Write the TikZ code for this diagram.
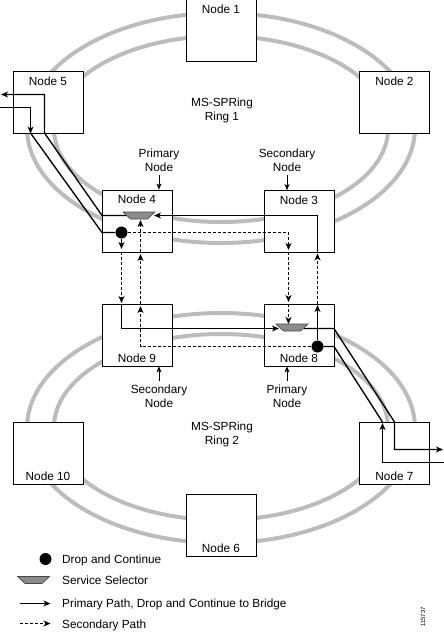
\documentclass[tikz,border=0pt]{standalone}
\usepackage{fontspec}
\setmainfont{Liberation Sans}
\usetikzlibrary{arrows.meta}
\definecolor{ringgray}{RGB}{188,188,188}
\definecolor{selfill}{RGB}{140,140,140}
\definecolor{seldraw}{RGB}{70,70,70}
\tikzset{
  pics/selector/.style={code={
    \filldraw[fill=selfill,draw=seldraw,line width=0.6pt]
      (-16,-3.5) -- (16,-3.5) -- (8.5,3.5) -- (-8.5,3.5) -- cycle;}}
}
\begin{document}
\begin{tikzpicture}[x=1pt,y=-1pt,
  txt/.style={font=\fontsize{11.8}{14}\selectfont, inner sep=0pt},
  nodebox/.style={draw=black, line width=0.8pt, fill=white, minimum width=70pt, minimum height=62pt, inner sep=0pt},
  toplbl/.style={label={[txt,anchor=center,yshift=-10pt]north:#1}},
  botlbl/.style={label={[txt,anchor=center,yshift=8pt]south:#1}},
  ring/.style={draw=ringgray, line width=4pt},
  path1/.style={line width=1.35pt},
  arr/.style={-{Stealth[length=7pt,width=6pt,inset=2pt]}},
  lblarr/.style={line width=0.8pt,-{Stealth[length=6pt,width=5pt,inset=1.5pt]}},
  sec/.style={line width=1.1pt, dash pattern=on 3pt off 2pt},
  dotnode/.style={circle, fill=black, minimum size=12pt, inner sep=0pt}
]
\useasboundingbox (0,0) rectangle (444,632);

% rings
\draw[ring] (221,128) ellipse [x radius=194pt, y radius=115pt];
\draw[ring] (221,129) ellipse [x radius=167pt, y radius=93pt];
\draw[ring] (221,428) ellipse [x radius=194pt, y radius=115pt];
\draw[ring] (221,427) ellipse [x radius=167pt, y radius=93pt];

% nodes
\node[nodebox,toplbl={Node 1}] (n1) at (221,30.5) {};
\node[nodebox,toplbl={Node 5}] (n5) at (48,102.5) {};
\node[nodebox,toplbl={Node 2}] (n2) at (394.5,102.5) {};
\node[nodebox,toplbl={Node 4}] (n4) at (137,221) {};
\node[nodebox,toplbl={Node 3}] (n3) at (299,221.5) {};
\node[nodebox,botlbl={Node 9}] (n9) at (137,335) {};
\node[nodebox,botlbl={Node 8}] (n8) at (299,335) {};
\node[nodebox,botlbl={Node 10}] (n10) at (48,453) {};
\node[nodebox,botlbl={Node 7}] (n7) at (394.5,453) {};
\node[nodebox,botlbl={Node 6}] (n6) at (221,525) {};

% ring labels
\node[txt,align=center] (r1) at (222,110) {MS-SPRing\\Ring 1};
\node[txt,align=center] (r2) at (222,434.5) {MS-SPRing\\Ring 2};

% primary / secondary labels
\node[txt,align=center] (pn4) at (159,160) {Primary\\Node};
\node[txt,align=center] (sn3) at (287,160) {Secondary\\Node};
\node[txt,align=center] (sn9) at (159,396) {Secondary\\Node};
\node[txt,align=center] (pn8) at (287,396) {Primary\\Node};
\draw[lblarr] ([yshift=-3.7pt]pn4.south) -- (pn4.south |- n4.north);
\draw[lblarr] ([yshift=-3.7pt]sn3.south) -- (sn3.south |- n3.north);
\draw[lblarr] ([yshift=3pt]sn9.north) -- (sn9.north |- n9.south);
\draw[lblarr] ([yshift=3pt]pn8.north) -- (pn8.north |- n8.south);

% drop and continue dots
\node[dotnode] (d4) at (121.5,232.5) {};
\node[dotnode] (d8) at (317.5,346.5) {};
\coordinate (s4) at (139,215.5);
\coordinate (s8) at (292,327.5);

% primary paths
\draw[path1,arr] (127,215.5) -- (102,215.5) -- (44.5,133) -- (44.5,94.5) -- (1,94.5);
\draw[path1,arr] (0,107.5) -- (30.5,107.5) -- (30.5,133.5);
\draw[path1] (30.5,133) -- (102,232.5) -- (d4);
\draw[path1,arr] (317.5,252) -- (317.5,215.5) -- (154,215.5);
\draw[path1,arr] (d8) -- (317.5,305);
\draw[path1,arr] (d4) -- (121.5,249);
\draw[path1,arr] (121.5,304) -- (121.5,328.5) -- (279,328.5);
\draw[path1,arr] (304,328.5) -- (334,328.5) -- (394.5,422) -- (394.5,449.5) -- (443,449.5);
\draw[path1,arr] (444,462.5) -- (382.5,462.5) -- (382.5,423);
\draw[path1] (382.5,422) -- (334,346.5) -- (d8);

% secondary paths
\draw[sec,arr] (317.5,304) -- (317.5,253.5);
\draw[sec,arr] (d4) -- (288.5,232.5) -- (288.5,250);
\draw[sec,arr] (288.5,252) -- (288.5,302);
\draw[sec,arr] (288.5,304) -- (288.5,324);
\draw[sec,arr] (121.5,252) -- (121.5,303);
\draw[sec,arr] (d8) -- (140.5,346.5) -- (140.5,306);
\draw[sec,arr] (140.5,304) -- (140.5,254);
\draw[sec,arr] (140.5,252) -- (140.5,220);

% service selectors
\pic at (s4) {selector};
\pic at (s8) {selector};

% legend
\node[dotnode] (ld) at (45.5,559) {};
\node[txt,anchor=base west] (lt1) at (62,563.3) {Drop and Continue};
\coordinate (ls) at (33.5,580);
\pic at (ls) {selector};
\node[txt,anchor=base west] (lt2) at (62,584.3) {Service Selector};
\coordinate (la1) at (20,603.5);
\coordinate (la2) at (20,623.5);
\node[txt,anchor=base west] (lt3) at (62,607.8) {Primary Path, Drop and Continue to Bridge};
\node[txt,anchor=base west] (lt4) at (62,628.3) {Secondary Path};
\draw[path1,arr] (la1) -- ++(30.5,0);
\draw[sec,arr] (la2) -- ++(30.5,0);

\node[font=\fontsize{6}{7}\selectfont, rotate=90, inner sep=0pt] (fig) at (423,617) {115737};
\end{tikzpicture}
\end{document}
